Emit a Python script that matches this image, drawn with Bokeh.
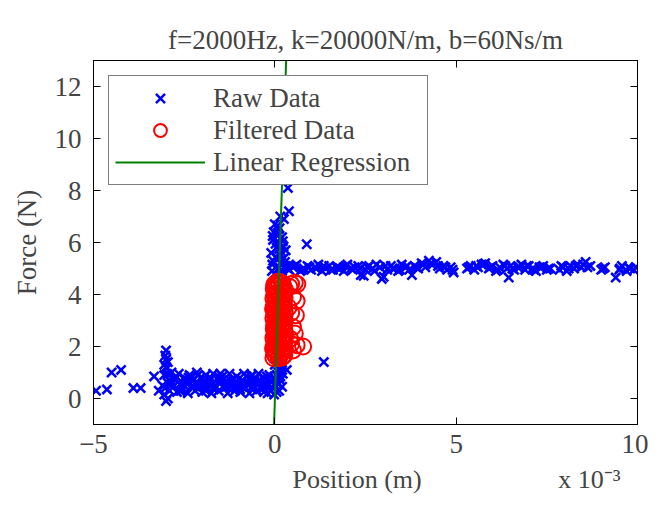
import numpy as np
from bokeh.plotting import figure
from bokeh.models import (Range1d, FixedTicker, LinearAxis, Legend, LegendItem,
                          CustomJSTickFormatter)
from bokeh.embed import file_html
from bokeh.resources import INLINE

# ---------------- data (positions read in mm, converted to m below) ----------------
raw_x_mm = [
    # left band
    -3.05, -3.0, -2.95, -2.9, -3.1, -2.85, -2.8, -2.75, -2.7, -2.65, -2.6, -2.55, -2.5, -2.45, -2.4,
    -2.35, -2.3, -2.25, -2.2, -2.15, -2.1, -2.05, -2.0, -1.95, -1.9, -1.85, -1.8, -1.75, -1.7, -1.65,
    -1.6, -1.55, -1.5, -1.45, -1.4, -1.35, -1.3, -1.25, -1.2, -1.15, -1.1, -1.05, -1.0, -0.95, -0.9,
    -0.85, -0.8, -0.75, -0.7, -0.65, -0.6, -0.55, -0.5, -0.45, -0.4, -0.35, -0.3, -0.25, -0.2, -0.15,
    -0.1, -0.05, 0.0, 0.05, 0.1, 0.15, 0.2, 0.1, 0.05, -0.02,
    -2.9, -2.5, -2.1, -1.7, -1.3, -0.9, -0.5, -0.1, -2.3, -1.9, -1.5, -1.1, -0.7, -0.3, 0.15,
    -3.02, -2.88, -2.72, -2.58, -2.42, -2.28, -2.12, -1.98, -1.82, -1.68, -1.52, -1.38, -1.22,
    -1.08, -0.92, -0.78, -0.62, -0.48, -0.32, -0.18, -0.02, 0.12, -2.97, -2.62, -2.18, -1.77,
    -1.33, -0.96, -0.57, -0.22, 0.08, -2.83, -2.38, -1.92, -1.47, -1.02, -0.63, -0.27,
    # stub at -3 mm
    -3.0, -3.0, -2.95, -3.05, -3.0, -3.05, -2.95, -3.02, -2.98,
    # left outliers
    -4.93, -4.63, -4.5, -4.24, -3.9, -3.7, -3.33, -3.2,
    # vertical cluster
    0.0, 0.1, -0.05, 0.15, 0.05, -0.05, 0.2, 0.1, 0.0, 0.25, 0.39, 0.36, 0.15, -0.1, 0.3, 0.05,
    0.2, 0.25, -0.08, 0.1, 0.15, 0.88, 0.33, 1.35, 0.1, 0.2, 0.0,
    -0.07, 0.03, 0.12, 0.22, -0.03, 0.08, 0.18, 0.28, 0.02, -0.06, 0.13, 0.24, 0.06, 0.17,
    0.2, 0.15, 0.22, 0.18, 0.1,
    # right band
    0.3, 0.4, 0.5, 0.6, 0.7, 0.8, 0.9, 1.0, 1.1, 1.2, 1.3, 1.4, 1.5, 1.6, 1.7, 1.8, 1.9, 2.0, 2.1,
    2.2, 2.37, 2.45, 2.3, 2.5, 2.6, 2.7, 2.8, 2.95, 3.0, 2.9, 3.1, 3.2, 3.3, 3.4, 3.5, 3.6, 3.78,
    3.7, 3.85, 3.95, 4.05, 4.15, 4.25, 4.35, 4.45, 4.55, 4.65, 4.75, 4.85, 4.93, 5.3, 5.4, 5.5,
    5.6, 5.7, 5.8, 5.9, 6.0, 6.1, 6.2, 6.3, 6.45, 6.4, 6.5, 6.6, 6.7, 6.8, 6.9, 7.0, 7.1, 7.2,
    7.3, 7.4, 7.5, 7.6, 7.85, 7.95, 8.05, 8.15, 8.25, 8.35, 8.45, 8.57, 8.7, 9.0, 9.1, 9.4, 9.5,
    9.57, 9.7, 9.8, 9.95,
    0.35, 0.55, 0.75, 0.95, 1.15, 1.35, 1.55, 1.75, 1.95, 2.15, 2.35, 2.55, 2.75, 3.05, 3.25,
    3.45, 3.65, 3.9, 4.1, 4.3, 4.5, 4.7, 4.9, 5.35, 5.55, 5.75, 5.95, 6.15, 6.35, 6.55, 6.75,
    6.95, 7.15, 7.35, 7.55, 7.9, 8.1, 8.3, 8.5, 8.62, 9.05, 9.52, 9.75, 9.9,
]
raw_force = [
    0.9, 1.2, 0.6, 0.3, 0.5, 1.0, 0.45, 0.75, 0.25, 0.95, 0.55, 0.35, 0.8, 0.6, 0.2,
    0.9, 0.45, 0.7, 0.3, 1.0, 0.55, 0.8, 0.25, 0.65, 0.9, 0.4, 0.7, 0.2, 0.95, 0.5,
    0.75, 0.3, 0.6, 0.85, 0.4, 0.65, 0.2, 0.95, 0.5, 0.75, 0.3, 0.85, 0.55, 0.25, 0.7,
    0.95, 0.4, 0.6, 0.2, 0.85, 0.5, 0.75, 0.3, 0.95, 0.6, 0.35, 0.8, 0.5, 0.2, 0.9,
    0.65, 0.4, 0.75, 0.25, 0.55, 0.85, 0.45, 1.0, 0.9, 0.15,
    0.7, 0.5, 0.4, 0.6, 0.55, 0.45, 0.55, 0.3, 0.85, 0.3, 0.95, 0.6, 0.75, 0.25, 0.7,
    0.4, 0.65, 0.85, 0.3, 0.7, 0.5, 0.9, 0.45, 0.6, 0.35, 0.8, 0.5, 0.7,
    0.4, 0.6, 0.85, 0.35, 0.65, 0.45, 0.75, 0.55, 0.3, 0.95, 0.3, 0.55, 0.8,
    0.45, 0.35, 0.65, 0.85, 0.6, 0.55, 0.8, 0.4, 0.7, 0.45, 0.9, 0.6,
    1.85, 1.5, 1.4, 1.3, -0.1, 0.15, 0.0, 1.65, 1.15,
    0.3, 0.35, 1.0, 1.1, 0.4, 0.4, 0.85, 0.3,
    4.8, 5.0, 5.3, 5.5, 5.8, 6.1, 6.2, 6.5, 6.7, 6.9, 7.2, 8.1, 5.2, 5.6, 5.7, 6.3,
    4.9, 5.4, 4.9, 6.0, 7.0, 5.93, 1.1, 1.4, 0.8, 1.1, 1.3,
    5.15, 5.45, 5.75, 6.05, 6.4, 6.65, 4.95, 5.25, 5.95, 6.25, 6.55, 5.85, 4.7, 5.65,
    1.3, 1.45, 0.95, 1.2, 1.5,
    5.1, 4.95, 5.05, 5.15, 4.9, 5.0, 5.1, 4.95, 5.05, 5.15, 4.9, 5.0, 5.1, 4.95, 5.05, 5.0, 4.9, 5.15, 5.0,
    5.05, 4.75, 4.72, 5.1, 4.95, 5.1, 5.0, 5.15, 4.6, 4.68, 5.05, 4.95, 5.1, 5.0, 4.9, 5.15, 5.05, 4.75,
    4.95, 5.1, 5.0, 5.2, 5.05, 5.3, 5.15, 5.25, 5.0, 5.1, 4.95, 5.05, 4.85, 5.0, 5.1, 4.95,
    5.05, 5.15, 5.2, 5.0, 5.1, 4.9, 5.05, 5.15, 4.65, 5.0, 5.1, 4.95, 5.05, 5.15, 4.95, 5.1, 5.0, 4.9,
    5.05, 5.1, 4.95, 5.0, 4.95, 5.05, 4.9, 5.1, 5.0, 5.15, 5.05, 5.25, 5.1, 4.95, 5.05, 4.65, 4.95,
    5.1, 4.9, 5.0, 5.05,
    5.0, 5.1, 4.95, 5.05, 5.0, 5.1, 4.95, 5.05, 5.1, 4.95, 5.0, 5.05, 4.9, 5.1, 5.0,
    4.95, 5.1, 5.05, 5.15, 5.2, 5.1, 5.05, 4.95, 5.05, 5.1, 5.15, 5.05, 4.95, 5.1, 5.0, 5.05,
    5.1, 4.95, 5.05, 5.0, 5.1, 5.0, 5.1, 5.15, 5.05, 5.0, 5.0, 5.05, 4.95,
]
filt_x_mm = [
    # dense core
    -0.04, 0.02, -0.01, 0.05, 0.0, -0.05, 0.03, -0.02, 0.04, 0.01, -0.04, 0.02, -0.01, 0.05,
    0.0, -0.03, 0.03, -0.02, 0.04, 0.01, -0.04, 0.02, -0.01, 0.05, 0.0, -0.05, 0.03, -0.02,
    0.04, 0.01, -0.04, 0.02, -0.01, 0.05, 0.0, -0.03, 0.03, -0.02, 0.04,
    0.2, 0.26, 0.18, 0.24, 0.28, 0.21, 0.17, 0.25, 0.22, 0.27, 0.19, 0.23, 0.28, 0.2, 0.26,
    0.18, 0.24, 0.21, 0.27, 0.17, 0.25, 0.22, 0.28, 0.19, 0.23, 0.2, 0.26, 0.18, 0.24, 0.21,
    0.27, 0.17, 0.25, 0.22, 0.28, 0.19, 0.23, 0.2,
    0.1, 0.12, 0.09, 0.11, 0.13, 0.08, 0.1, 0.12, 0.1, 0.11,
    # right edge
    0.45, 0.55, 0.62, 0.5, 0.6, 0.45, 0.58, 0.5, 0.55, 0.45, 0.6, 0.78, 0.5, 0.4, 0.38, 0.42,
]
filt_force = [
    1.56, 1.63, 1.71, 1.76, 1.86, 1.92, 2.01, 2.07, 2.16, 2.22, 2.32, 2.37, 2.47, 2.53,
    2.62, 2.68, 2.78, 2.83, 2.93, 2.99, 3.08, 3.14, 3.24, 3.29, 3.39, 3.45, 3.54, 3.60,
    3.70, 3.75, 3.85, 3.91, 4.00, 4.06, 4.16, 4.21, 4.31, 4.37, 4.46,
    1.58, 1.66, 1.73, 1.81, 1.89, 1.96, 2.04, 2.12, 2.19, 2.27, 2.35, 2.42, 2.50, 2.58, 2.66,
    2.73, 2.81, 2.88, 2.96, 3.04, 3.11, 3.19, 3.27, 3.34, 3.42, 3.50, 3.57, 3.65, 3.73, 3.80,
    3.88, 3.96, 4.03, 4.11, 4.19, 4.26, 4.34, 4.43,
    1.6, 2.0, 2.4, 2.8, 3.2, 3.6, 4.0, 4.4, 4.5, 1.55,
    4.4, 4.45, 4.4, 3.9, 3.75, 3.3, 3.2, 2.75, 2.5, 2.1, 2.05, 2.0, 1.85, 4.3, 3.5, 2.3,
]
reg_slope = 42000.0      # N/m
reg_intercept = -0.1     # N

x_ticks_mm = [-5, 0, 5, 10]
x_tick_labels = ["\u22125", "0", "5", "10"]
y_ticks = [0, 2, 4, 6, 8, 10, 12]
x_label = "Position (m)"
x_multiplier = "x 10\u207b\u00b3"

raw_x = [v * 1e-3 for v in raw_x_mm]
filt_x = [v * 1e-3 for v in filt_x_mm]
x_ticks = [v * 1e-3 for v in x_ticks_mm]
line_x = [-5e-3, 10e-3]
line_y = [reg_slope * v + reg_intercept for v in line_x]

FONT = "Liberation Serif"
NB = "\u00a0"

p = figure(width=648, height=496, output_backend="svg", toolbar_location=None,
           x_range=Range1d(-5e-3, 10e-3), y_range=Range1d(-1, 13),
           min_border_left=93, min_border_right=11, min_border_top=60, min_border_bottom=71)
p.background_fill_color = "white"
p.border_fill_color = "white"
p.outline_line_color = "black"
p.outline_line_width = 1
p.grid.visible = False

p.title.text = "f=2000Hz, k=20000N/m, b=60Ns/m"
p.title.text_font = FONT
p.title.text_font_size = "27px"
p.title.text_font_style = "normal"
p.title.align = "center"
p.title.standoff = 12

xt = FixedTicker(ticks=x_ticks)
yt = FixedTicker(ticks=y_ticks)
overrides = {t: lab for t, lab in zip(x_ticks, x_tick_labels)}

for ax in [p.xaxis[0], p.yaxis[0]]:
    ax.major_tick_in = 7
    ax.major_tick_out = 0
    ax.minor_tick_line_color = None
    ax.major_label_text_font = FONT
    ax.major_label_text_font_size = "27px"
    ax.axis_label_text_font = FONT
    ax.axis_label_text_font_style = "normal"
    ax.axis_line_color = "black"
p.xaxis[0].ticker = xt
p.xaxis[0].major_label_overrides = overrides
p.yaxis[0].ticker = yt
# x label and the x10^-3 multiplier share one line (non-breaking spaces keep the gap)
p.xaxis[0].axis_label = NB * 28 + x_label + NB * 21 + x_multiplier
p.xaxis[0].axis_label_text_font_size = "26px"
p.yaxis[0].axis_label = "Force (N)"
p.yaxis[0].axis_label_text_font_size = "27px"
p.xaxis[0].major_label_standoff = 10
p.yaxis[0].major_label_standoff = 12
p.xaxis[0].axis_label_standoff = 9
p.yaxis[0].axis_label_standoff = 10

blank = CustomJSTickFormatter(code="return ''")
for loc, tk in [("above", xt), ("right", yt)]:
    ax = LinearAxis(ticker=tk, formatter=blank, major_tick_in=7, major_tick_out=0,
                    minor_tick_line_color=None, major_label_standoff=0,
                    axis_line_color="black")
    p.add_layout(ax, loc)

r_raw = p.scatter(raw_x, raw_force, marker="x", size=13, line_color="#0000ff", line_width=2.5)
r_filt = p.scatter(filt_x, filt_force, marker="circle", size=16, fill_color=None,
                   line_color="#ff0000", line_width=2)
r_line = p.line(line_x, line_y, line_color="#008000", line_width=2)

legend = Legend(items=[LegendItem(label="Raw Data", renderers=[r_raw]),
                       LegendItem(label="Filtered Data", renderers=[r_filt]),
                       LegendItem(label="Linear Regression", renderers=[r_line])],
                location="top_left", margin=15, padding=6, spacing=0,
                glyph_width=90, glyph_height=32, label_standoff=8, label_width=208,
                label_text_font=FONT, label_text_font_size="27px",
                border_line_color="black", border_line_width=1.5,
                background_fill_color="white", background_fill_alpha=1)
p.add_layout(legend)

open("out.html", "w").write(file_html(p, INLINE))
